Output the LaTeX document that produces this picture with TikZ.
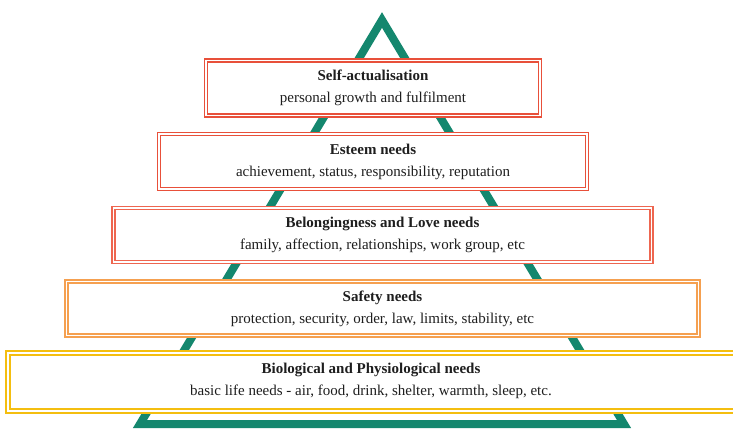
\documentclass[tikz,border=0pt]{standalone}
\usepackage{fontspec}
\setmainfont{Liberation Serif}
\definecolor{tri}{HTML}{14876E}
\definecolor{redA}{HTML}{E8503A}
\definecolor{redB}{HTML}{EE6650}
\definecolor{orA}{HTML}{F5A050}
\definecolor{yeA}{HTML}{F4BE10}
\definecolor{txt}{HTML}{1E1E1E}
\begin{document}
\begin{tikzpicture}[x=1pt,y=-1pt,
  box/.style={draw=#1, double=white, double distance=1.1pt, line width=1.6pt, fill=white,
    text=txt, align=center, inner sep=0pt, font=\fontsize{15}{22}\selectfont},
  tri line/.style={draw=tri, line width=8pt, line join=miter}]
\useasboundingbox (0,0) rectangle (733,429);
\fill[white] (0,0) rectangle (733,429);
\coordinate (apex) at (382,20);
\coordinate (br) at (624,424);
\coordinate (bl) at (140,424);
\draw[tri line] (apex) -- (br) -- (bl) -- cycle;
\node[box=redA, minimum width=334pt, minimum height=55pt] (b1) at (373,88)
  {\textbf{Self-actualisation}\\personal growth and fulfilment};
\node[box=redA, minimum width=428pt, minimum height=55pt] (b2) at (373,161.5)
  {\textbf{Esteem needs}\\achievement, status, responsibility, reputation};
\node[box=redB, minimum width=538pt, minimum height=54pt] (b3) at (382.5,235)
  {\textbf{Belongingness and Love needs}\\family, affection, relationships, work group, etc};
\node[box=orA, double distance=1.6pt, minimum width=632pt, minimum height=54pt] (b4) at (382.5,308.5)
  {\textbf{Safety needs}\\protection, security, order, law, limits, stability, etc};
\node[box=yeA, double distance=1.6pt, line width=1.8pt, minimum width=740pt, minimum height=58pt] (b5) at (378,382)
  {};
\node[text=txt, align=center, font=\fontsize{15}{22}\selectfont] (t5) at (371,381)
  {\textbf{Biological and Physiological needs}\\basic life needs - air, food, drink, shelter, warmth, sleep, etc.};
\end{tikzpicture}
\end{document}
